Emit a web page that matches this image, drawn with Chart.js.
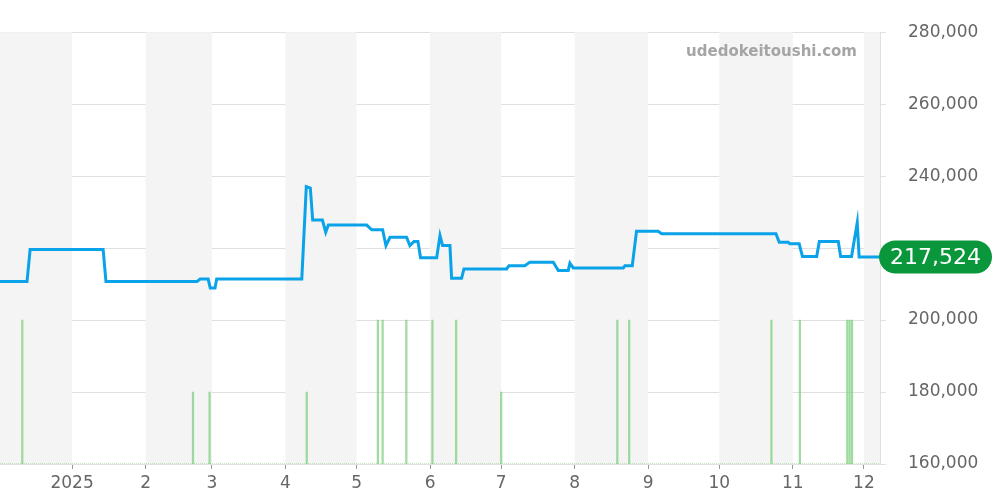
<!DOCTYPE html>
<html>
<head>
<meta charset="utf-8">
<script src="https://cdn.jsdelivr.net/npm/chart.js@4"></script>
<style>
  html, body { margin: 0; padding: 0; background: #fff; }
  #wrap { width: 1000px; height: 500px; }
</style>
</head>
<body>
<div id="wrap"><canvas id="myChart" width="1000" height="500"></canvas></div>
<script>
// days counted from 2025-01-01
const monthStarts = [-31, 0, 31, 59, 90, 120, 151, 181, 212, 243, 273, 304, 334, 365];
const monthLabels = ["12", "2025", "2", "3", "4", "5", "6", "7", "8", "9", "10", "11", "12", "2026"];
const xMin = -30.4;
const xMax = 340.8;

const priceDays = [
  -30.4, -19.0, -17.7, 13.1, 14.3, 52.7, 54.0, 57.4, 58.3, 60.3, 61.0, 96.9,
  98.8, 100.5, 101.5, 105.6, 107.0, 108.1, 124.3, 126.4, 131.0, 132.4, 134.1,
  141.1, 142.5, 144.2, 145.9, 147.0, 153.8, 155.2, 156.3, 159.4, 160.1, 164.3,
  165.3, 183.3, 184.3, 191.0, 193.1, 203.0, 205.1, 209.3, 210.0, 211.4, 232.5,
  233.2, 236.3, 238.1, 247.2, 248.7, 296.9, 298.3, 302.1, 302.8, 306.7, 308.1,
  314.1, 315.2, 323.2, 324.2, 328.8, 331.2, 332.0, 340.8
];
const priceValues = [
  210700, 210700, 219600, 219600, 210700, 210700, 211400, 211400, 208900, 208900, 211400, 211400,
  237100, 236700, 227800, 227800, 224400, 226400, 226400, 225100, 225100, 220700, 223000,
  223000, 220700, 221800, 221800, 217300, 217300, 223500, 220700, 220700, 211600, 211600,
  214200, 214200, 215100, 215100, 216100, 216100, 213800, 213800, 215800, 214500, 214500,
  215100, 215100, 224700, 224700, 224000, 224000, 221600, 221600, 221200, 221200, 217700,
  217700, 221800, 221800, 217700, 217700, 227100, 217524, 217524
];
const latestPrice = 217524;

const saleDays = [-21, 51, 58, 99, 129, 131, 141, 152, 162, 181, 230, 235, 295, 307, 327, 328, 329];
const saleCounts = [2, 1, 1, 1, 2, 2, 2, 2, 2, 1, 2, 2, 2, 2, 2, 2, 2];

const yTicks = [160000, 180000, 200000, 220000, 240000, 260000, 280000];
const watermark = "udedokeitoushi.com";

const font = "'DejaVu Sans', sans-serif";

const bandsPlugin = {
  id: "bands",
  beforeDatasetsDraw(chart) {
    const { ctx, chartArea, scales } = chart;
    ctx.save();
    ctx.fillStyle = "#f4f4f4";
    for (let i = 0; i < monthStarts.length - 1; i++) {
      const label = monthLabels[i];
      const m = label === "2025" ? 1 : parseInt(label);
      if (m % 2 !== 0) continue;
      let x1 = scales.x.getPixelForValue(monthStarts[i]);
      let x2 = scales.x.getPixelForValue(monthStarts[i + 1]);
      x1 = Math.max(x1, chartArea.left);
      x2 = Math.min(x2, chartArea.right);
      if (x2 <= x1) continue;
      ctx.fillRect(x1, chartArea.top, x2 - x1, chartArea.bottom - chartArea.top);
    }
    ctx.restore();
  }
};

const overlayPlugin = {
  id: "overlay",
  afterDraw(chart) {
    const { ctx, chartArea, scales } = chart;
    ctx.save();
    ctx.font = "bold 15px " + font;
    ctx.fillStyle = "#a5a5a5";
    ctx.textAlign = "right";
    ctx.textBaseline = "middle";
    ctx.fillText(watermark, chartArea.right - 23, 52);

    // latest price pill
    const y = scales.y.getPixelForValue(latestPrice);
    const x = chartArea.right;
    const w = 113, h = 33, r = 16.5;
    ctx.fillStyle = "#0a963a";
    ctx.beginPath();
    ctx.roundRect(x - 1, y - h / 2, w, h, r);
    ctx.fill();
    ctx.fillStyle = "#fff";
    ctx.font = "22px " + font;
    ctx.textAlign = "center";
    ctx.fillText(latestPrice.toLocaleString("en-US"), x - 1 + w / 2, y + 1);
    ctx.restore();
  }
};

new Chart(document.getElementById("myChart"), {
  data: {
    datasets: [
      {
        type: "line",
        data: priceDays.map((d, i) => ({ x: d, y: priceValues[i] })),
        borderColor: "#0aa2e8",
        borderWidth: 3,
        pointRadius: 0,
        tension: 0,
        yAxisID: "y",
        order: 1
      },
      {
        type: "bar",
        data: saleDays.map((d, i) => ({ x: d, y: saleCounts[i] })),
        backgroundColor: "rgba(120, 205, 120, 0.7)",
        barThickness: 1.6,
        yAxisID: "y2",
        order: 2
      },
      {
        type: "line",
        data: [{ x: xMin, y: 0 }, { x: xMax, y: 0 }],
        borderColor: "rgba(120, 205, 120, 0.6)",
        borderWidth: 1.5,
        borderDash: [1, 1],
        pointRadius: 0,
        yAxisID: "y2",
        order: 3
      }
    ]
  },
  options: {
    responsive: false,
    animation: false,
    layout: { padding: { top: 30, left: 0, right: 0, bottom: 0 } },
    plugins: { legend: { display: false }, tooltip: { enabled: false } },
    scales: {
      x: {
        type: "linear",
        min: xMin,
        max: xMax,
        offset: false,
        afterBuildTicks(axis) {
          axis.ticks = monthStarts.filter(v => v >= xMin && v <= xMax).map(v => ({ value: v }));
        },
        afterFit(axis) { axis.height = 36; },
        grid: { offset: false, drawOnChartArea: false, drawTicks: true, tickLength: 5, color: "#999" },
        border: { display: false },
        ticks: {
          autoSkip: false,
          maxRotation: 0,
          padding: 4,
          color: "#666",
          font: { family: font, size: 17 },
          callback(v) { return monthLabels[monthStarts.indexOf(v)]; }
        }
      },
      y: {
        position: "right",
        min: 160000,
        max: 280000,
        afterBuildTicks(axis) { axis.ticks = yTicks.map(v => ({ value: v })); },
        afterFit(axis) { axis.width = 120; },
        grid: { color: "#e0e0e0", tickLength: 6 },
        border: { display: true, color: "#e0e0e0" },
        ticks: {
          padding: 22,
          color: "#666",
          font: { family: font, size: 17 },
          // the label next to the latest-price pill is hidden
          callback(v) { return Math.abs(v - latestPrice) < 8000 ? "" : v.toLocaleString("en-US"); }
        }
      },
      y2: {
        display: false,
        min: 0,
        max: 6
      }
    }
  },
  plugins: [bandsPlugin, overlayPlugin]
});
</script>
</body>
</html>
